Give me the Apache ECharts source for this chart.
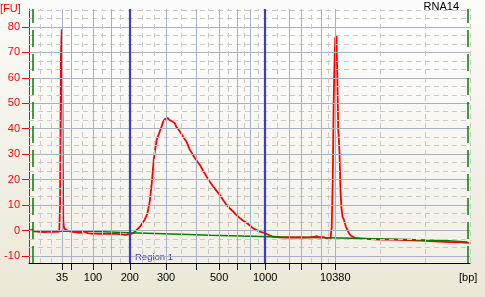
<!DOCTYPE html>
<html><head><meta charset="utf-8">
<script src="https://cdn.jsdelivr.net/npm/echarts@6/dist/echarts.min.js"></script>
<style>html,body{margin:0;padding:0;background:#fff;}#c{width:485px;height:297px;}</style>
</head><body><div id="c"></div>
<script>
// Migration time (s) of the ladder peaks and their sizes in bp
const ladderTimes = [22.74, 23.77, 26.26, 28.30, 30.43, 34.54, 37.95, 40.56, 42.60, 44.12, 45.78, 48.50, 49.86, 52.18, 53.72];
const ladderBp    = [35, 50, 100, 150, 200, 300, 400, 500, 600, 700, 1000, 2000, 3000, 7000, 10380];
const labeledBp   = [35, 100, 200, 300, 500, 1000, 10380];
const minorTimes  = [20.25, 21.50, 25.01, 27.28, 29.37, 31.79, 33.15, 36.21, 39.28, 41.58, 43.36, 44.95, 47.14, 51.02, 52.95, 58.82, 63.90, 69.00];
const regionBp    = [200, 1000];
const regionName  = 'Region 1';
const windowTimes = [19.45, 68.70];
const fuTicks     = [-10, 0, 10, 20, 30, 40, 50, 60, 70, 80];
const fuMinor     = [-6.67, -3.33, 3.33, 6.67, 13.33, 16.67, 23.33, 26.67, 33.33, 36.67, 43.33, 46.67, 53.33, 56.67, 63.33, 66.67, 73.33, 76.67, 83.33, 86.67];
const sampleName  = 'RNA14';

// Electropherogram (time s, fluorescence FU)
const sampleTime = [19.00,19.19,19.42,19.65,20.21,20.78,21.35,21.92,22.43,22.52,
  22.62,22.71,22.80,22.89,22.99,23.16,23.33,23.62,24.19,24.53,
  24.87,25.13,25.32,25.66,26.11,26.57,27.02,27.59,28.16,28.72,
  29.29,29.63,29.97,30.20,30.43,30.65,30.88,31.19,31.39,31.64,
  31.90,32.13,32.43,32.69,32.92,33.15,33.32,33.49,33.75,34.02,
  34.20,34.40,34.62,34.74,34.88,35.16,35.34,35.53,35.72,35.93,
  36.10,36.47,36.86,37.23,37.80,38.37,38.74,39.13,39.50,39.88,
  40.26,40.64,41.01,41.40,41.77,42.15,42.53,42.91,43.28,43.67,
  44.04,44.42,44.80,45.18,45.46,45.78,46.08,46.31,46.68,47.10,
  47.44,48.01,48.58,49.15,49.71,50.28,50.85,51.30,51.61,51.87,
  52.44,52.89,53.17,53.32,53.44,53.54,53.63,53.72,53.86,53.95,
  54.06,54.20,54.31,54.42,54.54,54.71,54.93,55.10,55.27,55.50,
  55.95,56.52,57.66,58.79,59.93,61.06,62.20,63.33,64.46,65.60,
  66.73,67.87,68.89];
const sampleFU = [0.2,0.4,0.3,-0.3,-0.5,-0.6,-0.4,-0.5,-0.4,10.5,
  69,79,49,3.5,0.8,0.6,0.1,-0.3,-0.6,-0.8,
  -0.9,-0.3,-0.9,-1.0,-1.2,-1.2,-1.3,-1.3,-1.3,-1.2,
  -1.4,-1.6,-1.7,-1.4,-1.5,-1.3,-0.8,0.2,0.9,1.8,
  3.2,4.4,6.8,11.5,18.6,28,32.5,35.8,38.2,40.8,
  42.7,43.8,44.5,44.2,43.4,43.1,43.0,42.1,40.6,39.8,
  39.2,36.9,34.9,31.8,28.5,25.8,23.5,21.2,19.2,17.3,
  15.6,14,12,10.1,8.7,7.5,6.1,4.9,3.9,3.1,
  2.0,0.9,0.2,-0.4,-0.7,-1.0,-1.5,-1.9,-2.4,-2.5,
  -2.6,-2.7,-2.6,-2.7,-2.6,-2.7,-2.6,-2.5,-2.1,-2.6,
  -2.6,-3.3,-3.4,1.3,20,50,65,75.5,76.7,62,
  40,31,16,9,5.5,4.2,1.5,0.3,-1,-2,
  -2.8,-3.0,-3.3,-3.5,-3.5,-3.6,-3.8,-3.9,-4.1,-4.3,
  -4.5,-4.6,-4.8];

// Baseline (step segments)
const baselineTime = [19.45, 25.89, 30.43, 35.19, 39.62, 44.15, 48.58, 52.89, 61.97, 66.51, 68.70];
const baselineFU   = [-0.25, -0.8, -1.3, -1.8, -2.2, -2.6, -2.75, -3.5, -4.0, -4.5, -4.5];

const bpOf = t => { let best = 0; ladderTimes.forEach((v, i) => { if (Math.abs(v - t) < Math.abs(ladderTimes[best] - t)) best = i; }); return ladderBp[best]; };
const timeOfBp = bp => ladderTimes[ladderBp.indexOf(bp)];
const labelTimes = labeledBp.map(timeOfBp);

const F = 'Liberation Sans, Arial, sans-serif';
const solidCol = '#a8b2c5', dashCol = '#c9c9c9';
const gridLines = [];
fuTicks.forEach(v => gridLines.push({yAxis: v, lineStyle: {color: solidCol, width: 1, type: 'solid'}}));
fuMinor.forEach(v => gridLines.push({yAxis: v, lineStyle: {color: dashCol, width: 1, type: [5, 4]}}));
ladderTimes.forEach(v => gridLines.push({xAxis: v, lineStyle: {color: solidCol, width: 1, type: 'solid'}}));
minorTimes.forEach(v => gridLines.push({xAxis: v, lineStyle: {color: dashCol, width: 1, type: [5, 4]}}));

const chart = echarts.init(document.getElementById('c'), null, {renderer: 'canvas'});
chart.setOption({
  animation: false,
  backgroundColor: new echarts.graphic.LinearGradient(0, 0, 0, 1, [{offset: 0, color: '#fbfbf9'}, {offset: 1, color: '#ebe8d7'}]),
  grid: {left: 29, right: 15, top: 9, bottom: 34, show: true, borderWidth: 0,
    backgroundColor: new echarts.graphic.LinearGradient(0, 0, 0, 1, [{offset: 0, color: '#fefefe'}, {offset: 1, color: '#f2f0e6'}])},
  xAxis: {type: 'value', min: 19, max: 69,
    axisLine: {show: true, onZero: false, lineStyle: {color: '#000', width: 1}},
    axisTick: {show: true, length: 7, customValues: ladderTimes, lineStyle: {color: '#000', width: 1}},
    axisLabel: {customValues: labelTimes, formatter: v => String(bpOf(v)), color: '#000', fontFamily: F, fontSize: 11, margin: 9},
    splitLine: {show: false}},
  yAxis: {type: 'value', min: -12.7, max: 87,
    axisLine: {show: true, onZero: false, lineStyle: {color: '#ff0000', width: 1}},
    axisTick: {show: true, length: 7, customValues: fuTicks, lineStyle: {color: '#ff0000', width: 1}},
    axisLabel: {customValues: fuTicks, color: '#ff0000', fontFamily: F, fontSize: 11, margin: 9},
    splitLine: {show: false}},
  series: [
    {type: 'line', data: [], z: 1, silent: true,
      markLine: {silent: true, symbol: ['none', 'none'], label: {show: false}, animation: false, data: gridLines}},
    {type: 'line', data: [], z: 2, silent: true,
      markLine: {silent: true, symbol: ['none', 'none'], label: {show: false}, animation: false,
        data: windowTimes.map(t => ({xAxis: t, lineStyle: {color: '#008000', width: 1.5, type: [17, 7]}}))
          .concat(regionBp.map(bp => ({xAxis: timeOfBp(bp), lineStyle: {color: '#3c3cc4', width: 2.2, type: 'solid'}})))}},
    {type: 'line', z: 3, silent: true, showSymbol: false, symbol: 'none',
      lineStyle: {color: '#ff0000', width: 1.8},
      data: sampleTime.map((t, i) => [t, sampleFU[i]])},
    {type: 'line', z: 4, silent: true, showSymbol: false, symbol: 'none', step: 'end',
      lineStyle: {color: '#008000', width: 1.5},
      data: baselineTime.map((t, i) => [t, baselineFU[i]])}
  ],
  graphic: [
    {type: 'text', left: 0, top: 3, style: {text: '[FU]', fill: '#ff0000', font: '11px ' + F}},
    {type: 'text', left: 459, top: 272, style: {text: '[bp]', fill: '#000', font: '11px ' + F}},
    {type: 'text', right: 26, top: 1, style: {text: sampleName, fill: '#000', font: '11px ' + F}},
    {type: 'text', left: 135, top: 252, style: {text: regionName, fill: '#3c3cc4', font: '9.5px ' + F}}
  ]
});
</script></body></html>
